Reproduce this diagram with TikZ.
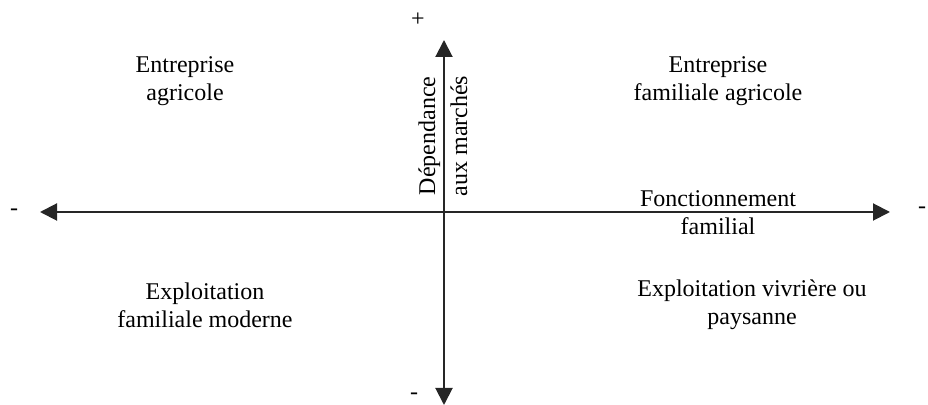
\documentclass[tikz,border=0pt]{standalone}
\usepackage{fontspec}
\setmainfont{Liberation Serif}
\usepackage{tikz}
\usetikzlibrary{positioning,arrows.meta}

\begin{document}
\begin{tikzpicture}[
          x=0.5pt, y=-0.5pt,
          every node/.style={font=\fontsize{12}{14}\selectfont},
          lbl/.style={align=center,inner sep=0pt},
          sgn/.style={inner sep=0pt},
          axis/.style={black!85,line width=1pt,{Triangle[length=8.5pt,width=8.5pt]}-{Triangle[length=8.5pt,width=8.5pt]}},
        ]
        \useasboundingbox (0,0) rectangle (928,405);
        % axis ends
        \coordinate (w) at (40,212);
        \coordinate (e) at (890,212);
        \coordinate (n) at (444,40);
        \coordinate (s) at (444,405);
        \draw[axis] (w) -- (e);
        \draw[axis] (s) -- (n);
        % signs
        \node[sgn] (plus)  at (418,20)  {+};
        \node[sgn] (mw)    at (14,212)  {-};
        \node[sgn] (me)    at (922,210) {-};
        \node[sgn] (ms)    at (414,396) {-};
        % axis titles
        \node[lbl,rotate=90] (dep) at (443,136) {Dépendance\\[2pt]aux marchés};
        \node[lbl] (fonc) at (718,213) {Fonctionnement\\familial};
        % quadrants
        \node[lbl] (ea)  at (185,81)  {Entreprise\\agricole};
        \node[lbl] (efa) at (718,81)  {Entreprise\\familiale agricole};
        \node[lbl] (efm) at (205,305) {Exploitation\\familiale moderne};
        \node[lbl] (evp) at (752,305) {Exploitation vivrière ou\\paysanne};
      \end{tikzpicture}
\end{document}
